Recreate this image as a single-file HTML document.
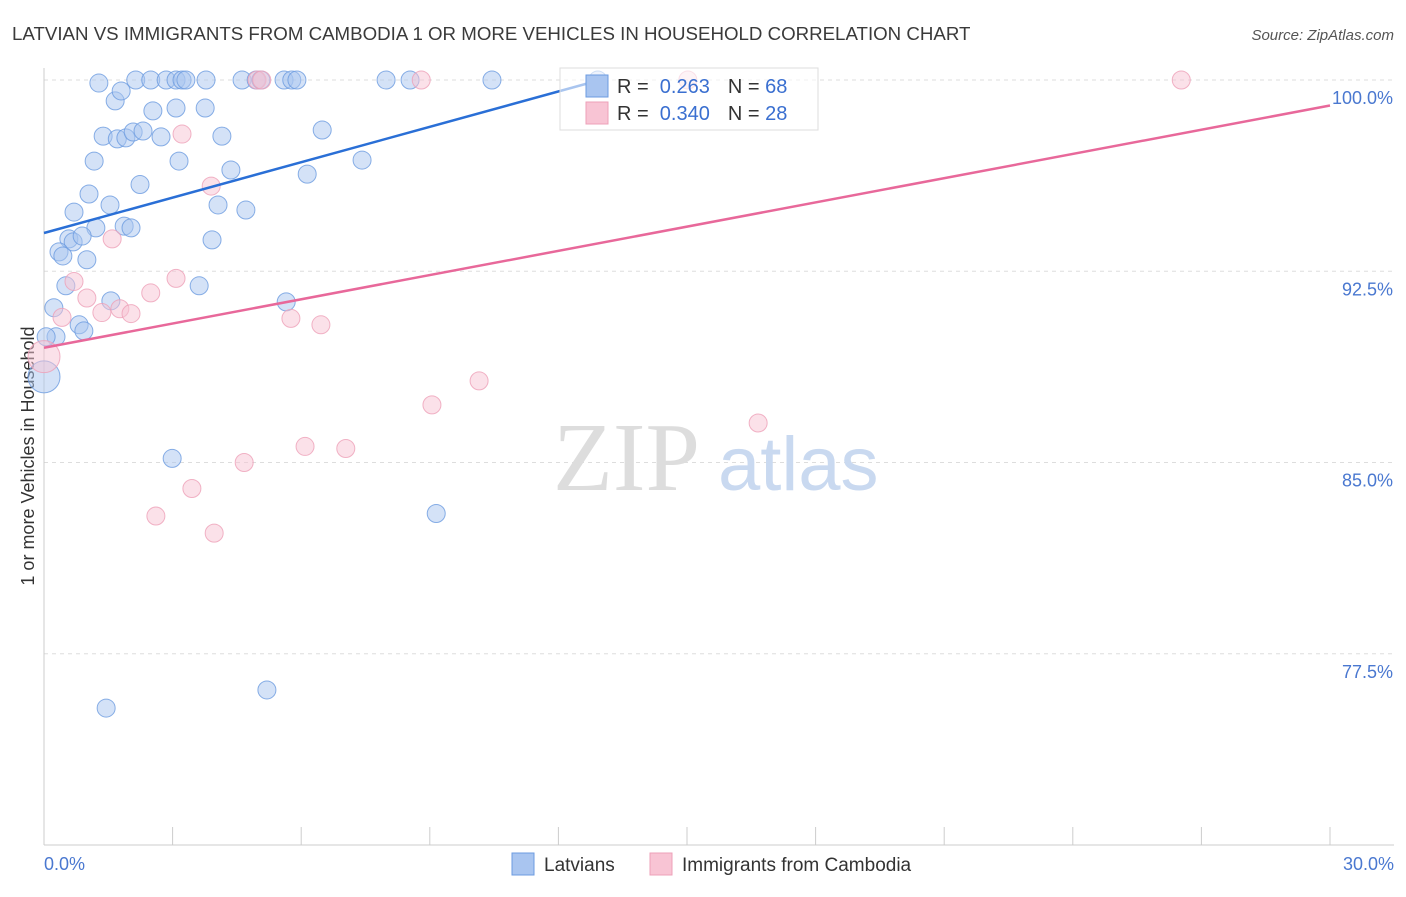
<!DOCTYPE html>
<html><head><meta charset="utf-8"><style>
body{margin:0;background:#fff;font-family:"Liberation Sans",sans-serif}
</style></head><body>
<svg id="chart" width="1406" height="892" xmlns="http://www.w3.org/2000/svg" font-family="Liberation Sans, sans-serif">
<text x="12" y="40" font-size="18.7" fill="#3a3a3a">LATVIAN VS IMMIGRANTS FROM CAMBODIA 1 OR MORE VEHICLES IN HOUSEHOLD CORRELATION CHART</text>
<text x="1394" y="40" font-size="15" fill="#555" font-style="italic" text-anchor="end">Source: ZipAtlas.com</text>
<text transform="translate(34,456) rotate(-90)" font-size="18" fill="#333" text-anchor="middle">1 or more Vehicles in Household</text>
<g id="grid"></g>
<g id="axes"></g>
<text x="553" y="490" font-size="98" fill="#ddd" font-family="Liberation Serif, serif">ZIP</text>
<text x="718" y="490" font-size="76" fill="#c9d9f0">atlas</text>
<g id="marks"></g>
<g>
<rect x="560" y="68" width="258" height="62" fill="#fff" fill-opacity="0.6" stroke="#ddd"/>
<rect x="586" y="75" width="22" height="22" fill="#a9c5f0" stroke="#6c9be0"/>
<text x="617" y="93" font-size="20" fill="#333">R = <tspan fill="#3a6fd0">&#160;0.263</tspan><tspan dx="18">N = </tspan><tspan fill="#3a6fd0">68</tspan></text>
<rect x="586" y="102" width="22" height="22" fill="#f8c4d4" stroke="#eea0b8"/>
<text x="617" y="120" font-size="20" fill="#333">R = <tspan fill="#3a6fd0">&#160;0.340</tspan><tspan dx="18">N = </tspan><tspan fill="#3a6fd0">28</tspan></text>
</g>
<g>
<rect x="512" y="853" width="22" height="22" fill="#a9c5f0" stroke="#6c9be0"/>
<text x="544" y="871" font-size="19" fill="#333">Latvians</text>
<rect x="650" y="853" width="22" height="22" fill="#f8c4d4" stroke="#eea0b8"/>
<text x="682" y="871" font-size="19" fill="#333">Immigrants from Cambodia</text>
</g>
</svg>
<script>
const xTicks=[0,3,6,9,12,15,18,21,24,27,30];
const yTicks=[77.5,85,92.5,100];
const blueX=[1.28,2.14,2.49,2.85,3.08,3.22,3.31,3.78,4.62,4.95,5.06,5.6,5.78,5.9,7.98,8.54,10.45,12.92,1.66,1.8,2.54,3.08,3.76,1.38,1.71,1.91,2.08,2.31,2.73,4.15,6.49,1.17,3.15,4.36,6.14,7.42,2.24,1.05,0.7,1.54,4.06,4.71,1.21,1.87,2.03,0.58,0.68,0.89,3.92,0.35,0.44,1.0,0.51,3.62,0.23,1.56,5.65,0.82,0.93,0.28,0.05,0,2.99,9.15,5.2,1.45];
const blueY=[99.88,100,100,100,100,100,100,100,100,100,100,100,100,100,100,100,100,100,99.18,99.57,98.79,98.9,98.9,97.8,97.69,97.73,97.96,98.0,97.77,97.8,98.04,96.82,96.82,96.47,96.31,96.86,95.9,95.53,94.82,95.1,95.1,94.9,94.2,94.27,94.2,93.77,93.65,93.88,93.73,93.26,93.1,92.95,91.93,91.93,91.07,91.34,91.3,90.4,90.16,89.93,89.93,88.36,85.16,83.0,76.08,75.37];
const blueR=[9,9,9,9,9,9,9,9,9,9,9,9,9,9,9,9,9,9,9,9,9,9,9,9,9,9,9,9,9,9,9,9,9,9,9,9,9,9,9,9,9,9,9,9,9,9,9,9,9,9,9,9,9,9,9,9,9,9,9,9,9,16,9,9,9,9];
const pinkX=[4.97,5.08,8.8,26.53,15.02,3.22,3.9,1.59,0.7,3.08,2.49,1.0,0.42,1.35,1.77,2.03,5.76,6.46,0,10.15,9.05,16.66,6.09,7.04,4.67,3.45,2.61,3.97];
const pinkY=[100,100,100,100,100,97.88,95.84,93.77,92.1,92.22,91.65,91.45,90.69,90.88,91.03,90.84,90.65,90.4,89.15,88.2,87.26,86.55,85.63,85.55,85.0,83.98,82.9,82.23];
const pinkR=[9,9,9,9,9,9,9,9,9,9,9,9,9,9,9,9,9,9,16,9,9,9,9,9,9,9,9,9];
const blueLine=[[0,94.0],[12.97,100]];
const pinkLine=[[0,89.5],[30,99.0]];
const X0=44,X1=1330,YT=80,YB=845;
const sx=v=>X0+(v/30)*(X1-X0);
const sy=v=>YT+(100-v)/30*(YB-YT);
const NS="http://www.w3.org/2000/svg";
function mk(tag,attrs,parent){const e=document.createElementNS(NS,tag);for(const k in attrs)e.setAttribute(k,attrs[k]);document.getElementById(parent).appendChild(e);return e;}
yTicks.forEach(t=>{
 const l=mk('line',{x1:X0,x2:1394,y1:sy(t),y2:sy(t),stroke:'#ddd','stroke-dasharray':'4,4'},'grid');
 
 
 const tx=mk('text',{x:1393,y:sy(t)+24,'font-size':18,fill:'#4a78d0','text-anchor':'end'},'axes');
 tx.textContent=t.toFixed(1)+'%';
 
 
});
const ax=mk('line',{x1:X0,x2:X0,y1:68,y2:YB,stroke:'#ccc'},'axes');


const bx=mk('line',{x1:X0,x2:1394,y1:YB,y2:YB,stroke:'#ccc'},'axes');


xTicks.forEach(t=>{
 const l=mk('line',{x1:sx(t),x2:sx(t),y1:YB,y2:YB-18,stroke:'#ccc'},'axes');
 
 
});
[[0,'start',44],[30,'end',1394]].forEach(([v,a,x])=>{
 const tx=mk('text',{x:x,y:870,'font-size':18,fill:'#4a78d0','text-anchor':a},'axes');
 tx.textContent=v.toFixed(1)+'%';
 
 
});
blueX.forEach((v,i)=>{
 const c=mk('circle',{cx:sx(v),cy:sy(blueY[i]),r:blueR[i],fill:'#a9c5f0','fill-opacity':0.5,stroke:'#6c9be0','stroke-opacity':0.8},'marks');
 
 
});
pinkX.forEach((v,i)=>{
 const c=mk('circle',{cx:sx(v),cy:sy(pinkY[i]),r:pinkR[i],fill:'#f8c4d4','fill-opacity':0.5,stroke:'#eea0b8','stroke-opacity':0.8},'marks');
 
 
});
const bl=mk('line',{x1:sx(blueLine[0][0]),y1:sy(blueLine[0][1]),x2:sx(blueLine[1][0]),y2:sy(blueLine[1][1]),stroke:'#2a6fd6','stroke-width':2.5},'marks');


const pl=mk('line',{x1:sx(pinkLine[0][0]),y1:sy(pinkLine[0][1]),x2:sx(pinkLine[1][0]),y2:sy(pinkLine[1][1]),stroke:'#e8689a','stroke-width':2.5},'marks');


</script>
</body></html>
